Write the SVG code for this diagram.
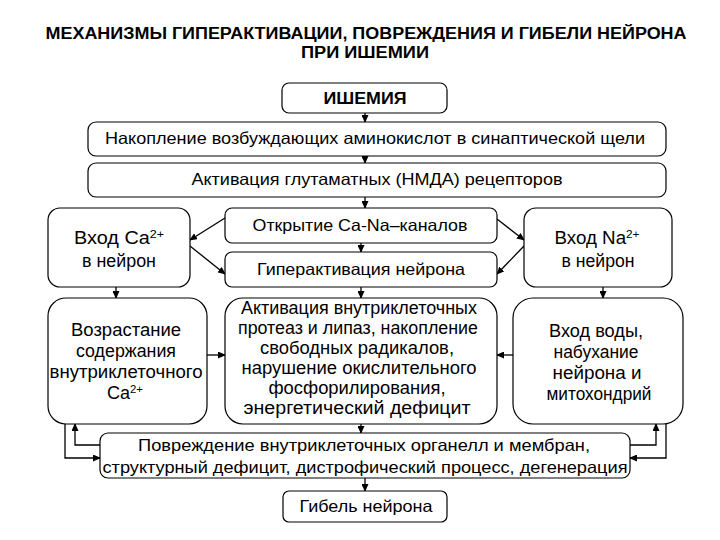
<svg xmlns="http://www.w3.org/2000/svg" width="720" height="540" viewBox="0 0 720 540">
<style>
.box{fill:#fff;stroke:#000;stroke-width:1.2}
.t{font-family:"Liberation Sans",Arial,sans-serif;font-size:16.5px;fill:#000;text-anchor:middle}
.l{font-size:17.5px}
.b{font-weight:bold;font-size:16px}
.c{fill:none;stroke:#000;stroke-width:1.3}
.sup{font-size:11px}
</style>
<defs>
<marker id="ah" markerUnits="userSpaceOnUse" markerWidth="8" markerHeight="7" refX="7" refY="3.5" orient="auto">
<path d="M0,0 L8,3.5 L0,7 z" fill="#000"/>
</marker>
</defs>
<rect width="720" height="540" fill="#fff"/>
<g id="title">
<text class="t b" x="366" y="39" textLength="641" lengthAdjust="spacingAndGlyphs">МЕХАНИЗМЫ ГИПЕРАКТИВАЦИИ, ПОВРЕЖДЕНИЯ И ГИБЕЛИ НЕЙРОНА</text>
<text class="t b" x="365" y="58" textLength="128" lengthAdjust="spacingAndGlyphs">ПРИ ИШЕМИИ</text>
</g>
<g id="connectors">
<line class="c" x1="365" y1="113" x2="365" y2="122" marker-end="url(#ah)"/>
<line class="c" x1="365" y1="156" x2="365" y2="163" marker-end="url(#ah)"/>
<line class="c" x1="365" y1="197" x2="365" y2="208" marker-end="url(#ah)"/>
<line class="c" x1="361" y1="243" x2="361" y2="252" marker-end="url(#ah)"/>
<line class="c" x1="361" y1="287" x2="361" y2="298" marker-end="url(#ah)"/>
<line class="c" x1="361" y1="424" x2="361" y2="433" marker-end="url(#ah)"/>
<line class="c" x1="365" y1="478" x2="365" y2="491" marker-end="url(#ah)"/>
<line class="c" x1="225" y1="218" x2="190" y2="240" marker-end="url(#ah)"/>
<line class="c" x1="190" y1="246" x2="225" y2="274" marker-end="url(#ah)"/>
<line class="c" x1="497" y1="219" x2="524" y2="240" marker-end="url(#ah)"/>
<line class="c" x1="524" y1="246" x2="497" y2="274" marker-end="url(#ah)"/>
<line class="c" x1="116" y1="287" x2="116" y2="298" marker-end="url(#ah)"/>
<line class="c" x1="603" y1="287" x2="603" y2="298" marker-end="url(#ah)"/>
<line class="c" x1="207" y1="355" x2="225" y2="355" marker-end="url(#ah)"/>
<line class="c" x1="513" y1="355" x2="497" y2="355" marker-end="url(#ah)"/>
<polyline class="c" points="100,445 75,445 75,424" marker-end="url(#ah)"/>
<polyline class="c" points="65,424 65,458 100,458" marker-end="url(#ah)"/>
<polyline class="c" points="630,445 656,445 656,424" marker-end="url(#ah)"/>
<polyline class="c" points="666,424 666,458 630,458" marker-end="url(#ah)"/>
</g>
<g id="ishemia">
<rect class="box" x="282" y="83" width="165" height="30" rx="7"/>
<text class="t b" x="365" y="104" textLength="83" lengthAdjust="spacingAndGlyphs">ИШЕМИЯ</text>
</g>
<g id="nakoplenie">
<rect class="box" x="88" y="122" width="578" height="34" rx="8"/>
<text class="t" x="375" y="144" textLength="540" lengthAdjust="spacingAndGlyphs">Накопление возбуждающих аминокислот в синаптической щели</text>
</g>
<g id="aktivaciya-nmda">
<rect class="box" x="88" y="163" width="578" height="34" rx="8"/>
<text class="t" x="377" y="185" textLength="371" lengthAdjust="spacingAndGlyphs">Активация глутаматных (НМДА) рецепторов</text>
</g>
<g id="vhod-ca">
<rect class="box" x="48" y="208" width="142" height="79" rx="12"/>
<text class="t l" x="119" y="244" textLength="90" lengthAdjust="spacingAndGlyphs">Вход Ca<tspan class="sup" dy="-6">2+</tspan></text>
<text class="t l" x="119" y="267" textLength="74" lengthAdjust="spacingAndGlyphs">в нейрон</text>
</g>
<g id="otkrytie">
<rect class="box" x="225" y="208" width="272" height="35" rx="7"/>
<text class="t" x="360" y="231" textLength="215" lengthAdjust="spacingAndGlyphs">Открытие Ca-Na–каналов</text>
</g>
<g id="giperaktivaciya">
<rect class="box" x="225" y="252" width="272" height="35" rx="7"/>
<text class="t" x="361" y="275" textLength="208" lengthAdjust="spacingAndGlyphs">Гиперактивация нейрона</text>
</g>
<g id="vhod-na">
<rect class="box" x="524" y="208" width="148" height="79" rx="12"/>
<text class="t l" x="597" y="244" textLength="85" lengthAdjust="spacingAndGlyphs">Вход Na<tspan class="sup" dy="-6">2+</tspan></text>
<text class="t l" x="598" y="267" textLength="73" lengthAdjust="spacingAndGlyphs">в нейрон</text>
</g>
<g id="vozrastanie">
<rect class="box" x="48" y="298" width="159" height="126" rx="18"/>
<text class="t l" x="126" y="336" textLength="110" lengthAdjust="spacingAndGlyphs">Возрастание</text>
<text class="t l" x="126" y="357" textLength="100" lengthAdjust="spacingAndGlyphs">содержания</text>
<text class="t l" x="126" y="378" textLength="153" lengthAdjust="spacingAndGlyphs">внутриклеточного</text>
<text class="t l" x="125" y="399" textLength="36" lengthAdjust="spacingAndGlyphs">Ca<tspan class="sup" dy="-6">2+</tspan></text>
</g>
<g id="aktivaciya-proteaz">
<rect class="box" x="225" y="298" width="272" height="126" rx="18"/>
<text class="t l" x="359" y="314" textLength="236" lengthAdjust="spacingAndGlyphs">Активация внутриклеточных</text>
<text class="t l" x="358" y="334" textLength="240" lengthAdjust="spacingAndGlyphs">протеаз и липаз, накопление</text>
<text class="t l" x="357" y="354" textLength="194" lengthAdjust="spacingAndGlyphs">свободных радикалов,</text>
<text class="t l" x="359" y="374" textLength="235" lengthAdjust="spacingAndGlyphs">нарушение окислительного</text>
<text class="t l" x="357" y="394" textLength="177" lengthAdjust="spacingAndGlyphs">фосфорилирования,</text>
<text class="t l" x="357" y="414" textLength="227" lengthAdjust="spacingAndGlyphs">энергетический дефицит</text>
</g>
<g id="vhod-vody">
<rect class="box" x="513" y="298" width="170" height="126" rx="20"/>
<text class="t l" x="596" y="337" textLength="94" lengthAdjust="spacingAndGlyphs">Вход воды,</text>
<text class="t l" x="596" y="358" textLength="85" lengthAdjust="spacingAndGlyphs">набухание</text>
<text class="t l" x="597" y="379" textLength="89" lengthAdjust="spacingAndGlyphs">нейрона и</text>
<text class="t l" x="599" y="400" textLength="105" lengthAdjust="spacingAndGlyphs">митохондрий</text>
</g>
<g id="povrezhdenie">
<rect class="box" x="100" y="433" width="530" height="45" rx="8"/>
<text class="t" x="364" y="451" textLength="452" lengthAdjust="spacingAndGlyphs">Повреждение внутриклеточных органелл и мембран,</text>
<text class="t" x="365" y="473" textLength="525" lengthAdjust="spacingAndGlyphs">структурный дефицит, дистрофический процесс, дегенерация</text>
</g>
<g id="gibel">
<rect class="box" x="283" y="491" width="164" height="31" rx="6"/>
<text class="t" x="366" y="512" textLength="133" lengthAdjust="spacingAndGlyphs">Гибель нейрона</text>
</g>
</svg>
